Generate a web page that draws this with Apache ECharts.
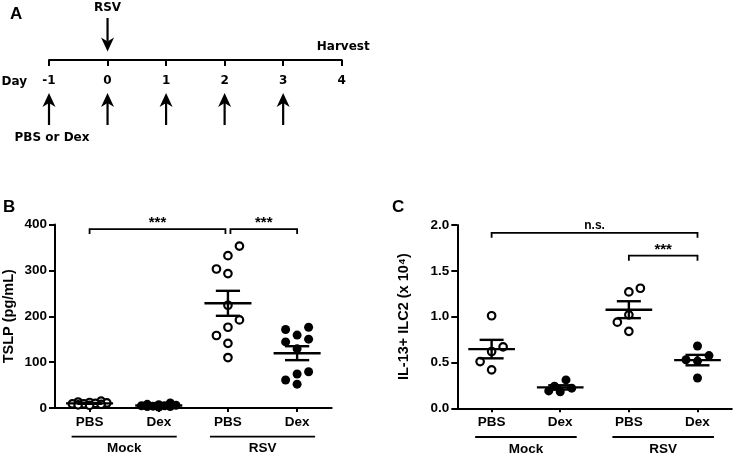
<!DOCTYPE html>
<html><head><meta charset="utf-8">
<script src="https://cdn.jsdelivr.net/npm/echarts@6/dist/echarts.min.js"></script>
<style>html,body{margin:0;padding:0;background:#fff}#c{width:735px;height:457px}</style>
</head><body><div id="c"></div>
<script>
// ---------- Panel A: timeline ----------
const timelineDays = [-1, 0, 1, 2, 3, 4];
const treatmentDays = [-1, 0, 1, 2, 3];
const infectionDays = [0];
const harvestDays = [4];
const dayLabel = 'Day';
const treatmentLabel = 'PBS or Dex';
const infectionLabel = 'RSV';
const harvestLabel = 'Harvest';

// ---------- Panels B and C ----------
const categories = ['PBS', 'Dex', 'PBS', 'Dex'];
const groups = ['Mock', 'RSV'];
const groupCategorySpans = [[1, 2], [3, 4]];
const openGroups = [true, false, true, false];

// B: TSLP (pg/mL)
const tslpMockPBS = [15, 13, 12, 11, 10, 9, 9, 8, 7, 6];
const tslpMockDex = [11, 8, 7, 6, 5, 5, 4, 3, 3, 2];
const tslpRsvPBS = [353, 332, 303, 293, 224, 192, 176, 158, 141, 110];
const tslpRsvDex = [176, 171, 159, 150, 144, 129, 79, 74, 61, 52];
const tslpTicks = [0, 100, 200, 300, 400];
const tslpBrackets = [[1, 3, 390, '***'], [3, 4, 390, '***']];

// C: IL-13+ ILC2 (x 10^4)
const ilc2MockPBS = [1.01, 0.67, 0.62, 0.51, 0.42];
const ilc2MockDex = [0.31, 0.24, 0.22, 0.19, 0.18];
const ilc2RsvPBS = [1.31, 1.27, 1.02, 0.94, 0.84];
const ilc2RsvDex = [0.68, 0.575, 0.53, 0.515, 0.33];
const ilc2Ticks = [0, 0.5, 1.0, 1.5, 2.0];
const ilc2Brackets = [[1, 4, 1.915, 'n.s.'], [3, 4, 1.665, '***']];

const panels = [
  { name: 'TSLP (pg/mL)', values: [tslpMockPBS, tslpMockDex, tslpRsvPBS, tslpRsvDex], ticks: tslpTicks, brackets: tslpBrackets, decimals: 0,
    grid: { left: 55, top: 224.5, width: 276.7, height: 183.5 }, nameGap: 38.5, spanPad: 0.26 },
  { name: 'IL-13+ ILC2 (x 10⁴)', values: [ilc2MockPBS, ilc2MockDex, ilc2RsvPBS, ilc2RsvDex], ticks: ilc2Ticks, brackets: ilc2Brackets, decimals: 1,
    grid: { left: 457.3, top: 225, width: 274.5, height: 183.3 }, nameGap: 46, spanPad: 0.24 }
];

const FONT = 'Liberation Sans, Arial, sans-serif';
const FONT_A = 'DejaVu Sans, Verdana, sans-serif';

function stats(arr) {
  const n = arr.length, m = arr.reduce((a, b) => a + b, 0) / n;
  const sd = Math.sqrt(arr.reduce((a, b) => a + (b - m) * (b - m), 0) / (n - 1));
  return [m, sd / Math.sqrt(n)];
}

const chart = echarts.init(document.getElementById('c'), null, { renderer: 'canvas' });

// ---- arrows for panel A ----
function arrowShape(x, tipY, tailY, dir) { // dir: -1 pointing up, +1 pointing down
  const h = 14, w = 6.5, notch = 10;
  const baseY = tipY - dir * h, notchY = tipY - dir * notch;
  return [
    { type: 'line', shape: { x1: x, y1: tailY, x2: x, y2: notchY }, style: { stroke: '#000', lineWidth: 2.2 } },
    { type: 'polygon', shape: { points: [[x, tipY], [x - w, baseY], [x, notchY], [x + w, baseY]] }, style: { fill: '#000' } }
  ];
}
function txtA(text, x, y, align) {
  return { type: 'text', style: { text, x, y, align: align || 'center', verticalAlign: 'middle',
    fill: '#000', fontFamily: FONT_A, fontWeight: 'bold', fontSize: 12 } };
}

const series = [];
const grids = [{ left: 49, top: 0, width: 292.7, height: 60 }];
const xAxes = [{
  type: 'value', gridIndex: 0, min: timelineDays[0], max: timelineDays[timelineDays.length - 1], interval: 1,
  axisLine: { show: true, onZero: false, lineStyle: { color: '#000', width: 2 } },
  axisTick: { show: true, length: 6, lineStyle: { color: '#000', width: 2 } },
  axisLabel: { show: true, margin: 15, color: '#000', fontFamily: FONT_A, fontWeight: 'bold', fontSize: 12,
    formatter: v => String(v) },
  splitLine: { show: false }
}];
const yAxes = [{ type: 'value', gridIndex: 0, min: 0, max: 60, show: false }];

series.push({
  type: 'custom', xAxisIndex: 0, yAxisIndex: 0, clip: false, silent: true,
  data: treatmentDays.map(d => [d, 0]),
  renderItem: (params, api) => {
    const p = api.coord([api.value(0), 0]);
    const ch = arrowShape(p[0], p[1] + 33, p[1] + 65, -1);
    if (params.dataIndex === 0) {
      ch.push(txtA(treatmentLabel, p[0] + 3, p[1] + 78));
      ch.push(txtA(dayLabel, p[0] - 22, p[1] + 21.5, 'right'));
    }
    return { type: 'group', children: ch };
  }
});
series.push({
  type: 'custom', xAxisIndex: 0, yAxisIndex: 0, clip: false, silent: true,
  data: infectionDays.map(d => [d, 0]),
  renderItem: (params, api) => {
    const p = api.coord([api.value(0), 0]);
    const ch = arrowShape(p[0], p[1] - 8.5, p[1] - 42, 1);
    ch.push(txtA(infectionLabel, p[0], p[1] - 52.5));
    return { type: 'group', children: ch };
  }
});
series.push({
  type: 'custom', xAxisIndex: 0, yAxisIndex: 0, clip: false, silent: true,
  data: harvestDays.map(d => [d, 0]),
  renderItem: (params, api) => {
    const p = api.coord([api.value(0), 0]);
    return txtA(harvestLabel, p[0] + 1.5, p[1] - 13.5);
  }
});

// ---- panels B, C ----
const scatterSeriesIndex = [];
panels.forEach((pn, k) => {
  const gi = k + 1;
  grids.push(pn.grid);
  const catVals = categories.map((c, i) => i + 1);
  xAxes.push({
    type: 'value', gridIndex: gi, min: 0.5, max: 4.5,
    axisLine: { show: true, lineStyle: { color: '#000', width: 2 } },
    axisTick: { show: true, customValues: catVals, length: 4, lineStyle: { color: '#000', width: 2 } },
    axisLabel: { show: true, customValues: catVals, margin: 7, color: '#000', fontFamily: FONT, fontWeight: 'bold', fontSize: 13.5,
      formatter: v => categories[Math.round(v) - 1] },
    splitLine: { show: false }
  });
  const t = pn.ticks;
  yAxes.push({
    type: 'value', gridIndex: gi, min: t[0], max: t[t.length - 1], interval: t[1] - t[0],
    axisLine: { show: true, lineStyle: { color: '#000', width: 2 } },
    axisTick: { show: true, length: 6, lineStyle: { color: '#000', width: 2 } },
    axisLabel: { margin: 8, color: '#000', fontFamily: FONT, fontWeight: 'bold', fontSize: 13.5,
      formatter: v => Number(v).toFixed(pn.decimals) },
    splitLine: { show: false },
    name: pn.name, nameLocation: 'middle', nameRotate: 90, nameGap: pn.nameGap,
    nameTextStyle: { color: '#000', fontFamily: FONT, fontWeight: 'bold', fontSize: 14.5 }
  });
  // scatter points
  pn.values.forEach((vals, ci) => {
    scatterSeriesIndex.push({ si: series.length, panel: k, ci });
    const open = openGroups[ci];
    series.push({
      type: 'scatter', xAxisIndex: gi, yAxisIndex: gi, silent: true, z: 2,
      symbol: 'circle', symbolSize: open ? 7.5 : 9,
      itemStyle: open ? { color: '#fff', borderColor: '#000', borderWidth: 2.2, opacity: 1 } : { color: '#000', opacity: 1 },
      data: vals.map(v => [ci + 1, v])
    });
  });
  // mean +/- SEM
  series.push({
    type: 'custom', xAxisIndex: gi, yAxisIndex: gi, clip: false, silent: true, z: 5,
    data: pn.values.map((vals, ci) => { const s = stats(vals); return [ci + 1, s[0], s[1]]; }),
    renderItem: (params, api) => {
      const x = api.value(0), m = api.value(1), s = api.value(2);
      const c = api.coord([x, m]), top = api.coord([x, m + s]), bot = api.coord([x, m - s]);
      const band = api.size([1, 0])[0];
      const hw = band * 0.34, sw = band * 0.175;
      const st = { stroke: '#000', lineWidth: 2.4 };
      return { type: 'group', children: [
        { type: 'line', shape: { x1: c[0] - hw, y1: c[1], x2: c[0] + hw, y2: c[1] }, style: st },
        { type: 'line', shape: { x1: c[0] - sw, y1: top[1], x2: c[0] + sw, y2: top[1] }, style: st },
        { type: 'line', shape: { x1: c[0] - sw, y1: bot[1], x2: c[0] + sw, y2: bot[1] }, style: st },
        { type: 'line', shape: { x1: c[0], y1: top[1], x2: c[0], y2: bot[1] }, style: st }
      ] };
    }
  });
  // group underline + label
  series.push({
    type: 'custom', xAxisIndex: gi, yAxisIndex: gi, clip: false, silent: true,
    data: groupCategorySpans.map(sp => [sp[0], sp[1]]),
    renderItem: (params, api) => {
      const a = api.coord([api.value(0) - pn.spanPad, t[0]]);
      const b = api.coord([api.value(1) + pn.spanPad, t[0]]);
      return { type: 'group', children: [
        { type: 'line', shape: { x1: a[0], y1: a[1] + 28.7, x2: b[0], y2: a[1] + 28.7 }, style: { stroke: '#000', lineWidth: 1.8 } },
        { type: 'text', style: { text: groups[params.dataIndex], x: (a[0] + b[0]) / 2, y: a[1] + 40.5, align: 'center', verticalAlign: 'middle',
          fill: '#000', fontFamily: FONT, fontWeight: 'bold', fontSize: 13.5 } }
      ] };
    }
  });
  // significance brackets
  series.push({
    type: 'custom', xAxisIndex: gi, yAxisIndex: gi, clip: false, silent: true,
    data: pn.brackets.map(b => [b[0], b[1], b[2]]),
    renderItem: (params, api) => {
      const i = params.dataIndex, br = pn.brackets[i];
      const a = api.coord([br[0], br[2]]), b = api.coord([br[1], br[2]]);
      let x1 = a[0], x2 = b[0];
      pn.brackets.forEach((o, j) => {
        if (j === i || o[2] !== br[2]) return;
        if (o[1] === br[0]) x1 += 2.5;
        if (o[0] === br[1]) x2 -= 2.5;
      });
      const y = a[1];
      const star = br[3] === '***';
      return { type: 'group', children: [
        { type: 'polyline', shape: { points: [[x1, y + 5], [x1, y], [x2, y], [x2, y + 5]] }, style: { stroke: '#000', lineWidth: 1.8, fill: null } },
        { type: 'text', style: { text: br[3], x: (x1 + x2) / 2, y: star ? y + 1.5 : y - 1.5, align: 'center', verticalAlign: 'bottom',
          fill: '#000', fontFamily: FONT, fontWeight: 'bold', fontSize: star ? 15 : 12 } }
      ] };
    }
  });
});

const titleStyle = { color: '#000', fontFamily: FONT, fontWeight: 'bold', fontSize: 17 };
const option = {
  animation: false,
  backgroundColor: '#fff',
  title: [
    { text: 'A', left: 10, top: 6, padding: 0, textStyle: titleStyle },
    { text: 'B', left: 3, top: 199, padding: 0, textStyle: titleStyle },
    { text: 'C', left: 392, top: 199, padding: 0, textStyle: titleStyle }
  ],
  grid: grids, xAxis: xAxes, yAxis: yAxes, series: series
};
chart.setOption(option);

// beeswarm horizontal spread computed in pixel space from the library's scales
function swarm(pys, d, thr) {
  const order = pys.map((y, i) => i).sort((a, b) => pys[b] - pys[a]);
  const placed = [], dx = new Array(pys.length).fill(0);
  let side = -1;
  for (const i of order) {
    const cands = [0, side * d, -side * d, side * d * 0.5, -side * d * 0.5, side * d * 1.5, -side * d * 1.5];
    let best = 0, bestScore = -1;
    for (const c of cands) {
      let minD = Infinity;
      for (const p of placed) { const dd = Math.hypot(c - p[0], pys[i] - p[1]); if (dd < minD) minD = dd; }
      if (minD >= thr) { best = c; break; }
      if (minD > bestScore) { bestScore = minD; best = c; }
    }
    if (best !== 0) side = -side;
    dx[i] = best; placed.push([best, pys[i]]);
  }
  return dx;
}
const newSeries = series.map(() => ({}));
scatterSeriesIndex.forEach(o => {
  const gi = o.panel + 1, vals = panels[o.panel].values[o.ci], c = o.ci + 1;
  const finder = { xAxisIndex: gi, yAxisIndex: gi };
  const band = chart.convertToPixel(finder, [c + 1, 0])[0] - chart.convertToPixel(finder, [c, 0])[0];
  const pys = vals.map(v => chart.convertToPixel(finder, [c, v])[1]);
  const dx = swarm(pys, 11.5, 10);
  newSeries[o.si] = { data: vals.map((v, i) => [c + dx[i] / band, v]) };
});
chart.setOption({ series: newSeries });
</script></body></html>
